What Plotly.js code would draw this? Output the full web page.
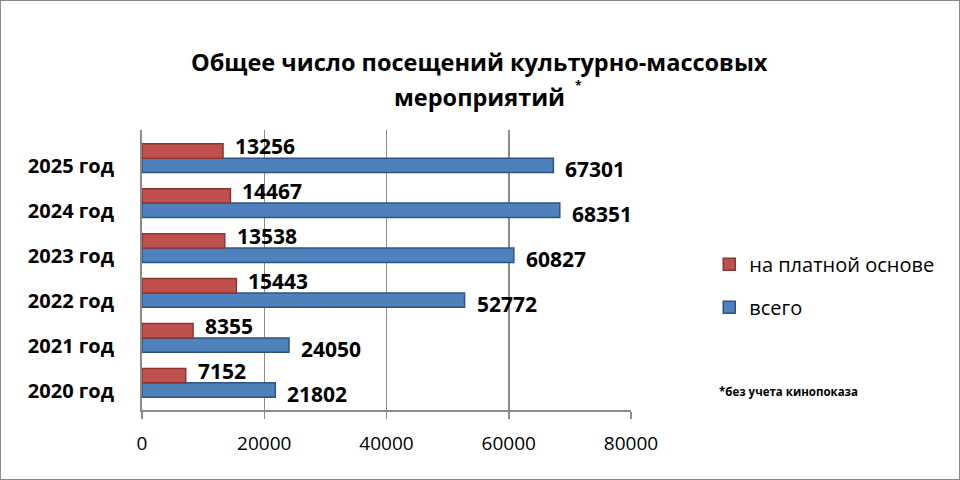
<!DOCTYPE html>
<html>
<head>
<meta charset="utf-8">
<script src="https://cdn.plot.ly/plotly-3.0.1.min.js"></script>
<style>
  html, body { margin: 0; padding: 0; background: #fff; }
  #chart { width: 960px; height: 480px; box-sizing: border-box; border: 1px solid #8a8a8a; }
</style>
</head>
<body>
<div id="chart"></div>
<script>
	'use strict';

	// categories (bottom to top)
	const years = ['2020 год', '2021 год', '2022 год', '2023 год', '2024 год', '2025 год'];

	// series values
	const total = [21802, 24050, 52772, 60827, 68351, 67301];
	const paid = [7152, 8355, 15443, 13538, 14467, 13256];

	// x tick values
	const xTicks = [0, 20000, 40000, 60000, 80000];

	const font = '"Open Sans", "DejaVu Sans", sans-serif';

	const labelFont = { family: font, size: 21, color: '#000', weight: 'bold' };

	/*
	Data traces - first trace sits lower in each group
	*/
	const allTrace = {
		type: 'bar',
		orientation: 'h',
		name: 'всего',
		y: years,
		x: total,
		marker: { color: '#4F81BD', line: { color: '#2F5482', width: 1.5 } },
		legendgroup: 'all',
		legendrank: 2,
		hoverinfo: 'x+name'
	};

	const paidTrace = {
		type: 'bar',
		orientation: 'h',
		name: 'на платной основе',
		y: years,
		x: paid,
		marker: { color: '#C0504D', line: { color: '#8C3431', width: 1.5 } },
		legendgroup: 'paid',
		legendrank: 1,
		hoverinfo: 'x+name'
	};

	/*
	Value labels - red a bit above its bar, blue a bit below (like the 3D original)
	*/
	const valueLabels = ( values, offset, yshift ) => values.map( ( v, i ) => ({
		x: v,
		y: i + offset,
		xref: 'x',
		yref: 'y',
		text: String( v ),
		xanchor: 'left',
		yanchor: 'middle',
		xshift: 10,
		yshift,
		showarrow: false,
		font: labelFont
	}));

	const textNote = ( text, x, y, size, xanchor = 'center' ) => ({
		text,
		xref: 'paper',
		yref: 'paper',
		x,
		y,
		xanchor,
		yanchor: 'middle',
		showarrow: false,
		font: { family: font, size, color: '#000', weight: 'bold' }
	});

	const layout = {
		width: 958,
		height: 478,
		margin: { l: 141, r: 328, t: 129, b: 69 },
		paper_bgcolor: '#fff',
		plot_bgcolor: '#fff',
		font: { family: font, color: '#000' },
		barmode: 'group',
		bargap: 0.36,
		bargroupgap: 0,
		showlegend: true,
		xaxis: {
			range: [0, 80000],
			tickvals: xTicks,
			ticktext: xTicks.map( String ),
			showgrid: true,
			gridcolor: '#8a8a8a',
			gridwidth: 1.5,
			zeroline: false,
			showline: true,
			linecolor: '#8a8a8a',
			linewidth: 2,
			ticks: 'outside',
			ticklen: 7,
			tickwidth: 1.5,
			tickcolor: '#8a8a8a',
			ticklabelstandoff: 8,
			tickfont: { family: font, size: 19, color: '#000' },
			fixedrange: true
		},
		yaxis: {
			type: 'category',
			showgrid: false,
			zeroline: false,
			showline: true,
			linecolor: '#8a8a8a',
			linewidth: 2,
			ticks: '',
			ticklabelstandoff: 22,
			ticklabelshift: 8,
			tickfont: { family: font, size: 20, color: '#000', weight: 'bold' },
			fixedrange: true
		},
		legend: {
			x: 1.16,
			xanchor: 'left',
			y: 0.59,
			yanchor: 'top',
			font: { family: font, size: 20, color: '#000' },
			tracegroupgap: 14,
			itemwidth: 30,
			bgcolor: 'rgba(0,0,0,0)'
		},
		annotations: [
			...valueLabels( paid, 0.16, 5 ),
			...valueLabels( total, -0.16, -4 ),
			// title, two lines
			textNote( 'Общее число посещений культурно-массовых', 0.6912, 1.243, 23.5 ),
			textNote( 'мероприятий', 0.6912, 1.118, 23.5 ),
			textNote( '*', 0.893, 1.158, 12 ),
			textNote( '*без учета кинопоказа', 1.175, 0.065, 11.5, 'left' )
		]
	};

	Plotly.newPlot(
		'chart',
		[ allTrace, paidTrace ],
		layout,
		{ displayModeBar: false, staticPlot: true }
	);
</script>
</body>
</html>
